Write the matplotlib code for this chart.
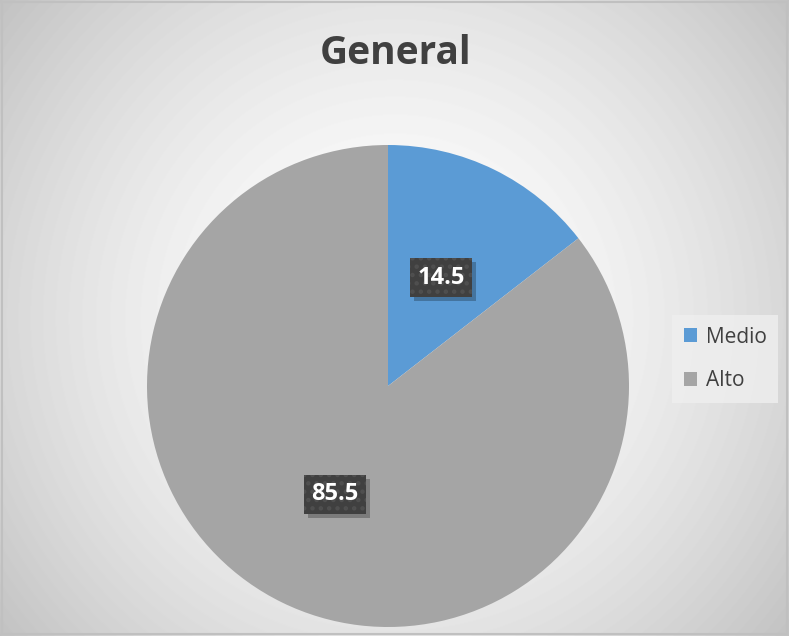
import numpy as np
import matplotlib
matplotlib.use("Agg")
import matplotlib.pyplot as plt
from matplotlib.patches import Rectangle
from matplotlib.transforms import IdentityTransform

plt.rcParams['font.family'] = ['Open Sans', 'DejaVu Sans']
plt.rcParams['hatch.linewidth'] = 2.0

title = "General"
labels = ["Medio", "Alto"]
values = [14.5, 85.5]
colors = ["#5B9BD5", "#A5A5A5"]

W, H = 789, 636
fig = plt.figure(figsize=(W / 100, H / 100), dpi=100)

# radial background gradient
bg = fig.add_axes([0, 0, 1, 1], zorder=-10)
yy, xx = np.mgrid[0:H, 0:W]
d = np.hypot(xx - 395, yy - 318)
t = d / d.max()
shade = 1 - 0.24 * t ** 1.7
bg.imshow(shade, cmap="gray", vmin=0, vmax=1, aspect="auto", extent=(0, 1, 0, 1))
bg.set_axis_off()
fig.patches.append(Rectangle((0.003, 0.003), 0.994, 0.994, transform=fig.transFigure,
                             fill=False, edgecolor="#c0c0c0", linewidth=1.5))

ax = fig.add_axes([147 / W, 9 / H, 482 / W, 482 / H])
wedges, texts, autotexts = ax.pie(values, colors=colors, startangle=90, counterclock=False,
                                  autopct=lambda p: "%.1f" % (p), pctdistance=0.5,
                                  wedgeprops=dict(linewidth=0))
ax.set_xlim(-1, 1)
ax.set_ylim(-1, 1)
ax.set_aspect("equal")

for at, v in zip(autotexts, values):
    at.set_text("%.1f" % v)
    at.set_color("white")
    at.set_fontsize(17)
    at.set_fontweight("bold")
    at.set_bbox(dict(boxstyle="square,pad=0.32", facecolor="#404040", edgecolor="#4f4f4f",
                     linewidth=0, hatch=".."))
    at.set_zorder(5)

fig.text(396 / W, 1 - 53 / H, title, ha="center", va="center", fontsize=28,
         fontweight="bold", color="#404040")

leg = fig.legend(wedges, labels, loc="center", bbox_to_anchor=(725 / W, 1 - 359 / H),
                 frameon=True, fancybox=False, facecolor="#efefef", edgecolor="none",
                 fontsize=15, handlelength=0.65, handleheight=0.65, handletextpad=0.4,
                 labelspacing=1.1, borderpad=0.55, borderaxespad=0)
for txt in leg.get_texts():
    txt.set_color("#404040")

# drop shadows behind the label boxes
fig.canvas.draw()
for at in autotexts:
    ext = at.get_bbox_patch().get_window_extent()
    ax.add_patch(Rectangle((ext.x0 + 4, ext.y0 - 4), ext.width, ext.height,
                           transform=IdentityTransform(), facecolor=(0, 0, 0, 0.25),
                           edgecolor="none", zorder=4))

fig.savefig("out.png", dpi=100)
